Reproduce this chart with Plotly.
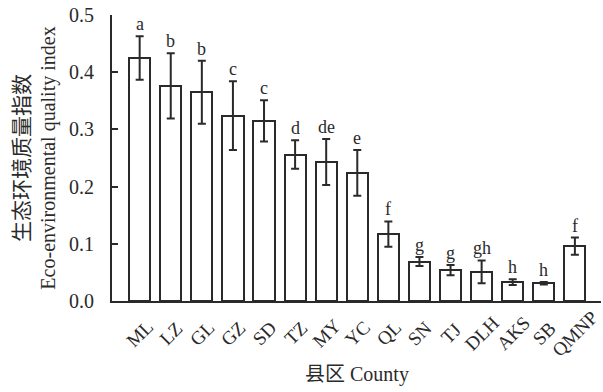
import plotly.graph_objects as go

# County codes and eco-environmental quality index (mean ± SD)
counties = ["ML", "LZ", "GL", "GZ", "SD", "TZ", "MY", "YC", "QL", "SN",
            "TJ", "DLH", "AKS", "SB", "QMNP"]
means = [0.425, 0.376, 0.365, 0.324, 0.315, 0.256, 0.243, 0.224, 0.117, 0.069,
         0.054, 0.051, 0.033, 0.031, 0.096]
errors = [0.038, 0.057, 0.055, 0.060, 0.036, 0.025, 0.040, 0.040, 0.022, 0.008,
          0.009, 0.020, 0.005, 0.002, 0.015]
letters = ["a", "b", "b", "c", "c", "d", "de", "e", "f", "g",
           "g", "gh", "h", "h", "f"]

ink = "#2a2a2a"
serif = "Liberation Serif, Noto Sans CJK SC"
positions = list(range(len(counties)))

fig = go.Figure()
fig.add_trace(go.Bar(
    x=positions,
    y=means,
    width=0.68,
    marker=dict(color="white", line=dict(color=ink, width=2)),
    error_y=dict(type="data", array=errors, visible=True,
                 color=ink, thickness=2, width=4),
    showlegend=False,
))

# Significance letters above each error bar
for i, (m, e, lab) in enumerate(zip(means, errors, letters)):
    fig.add_annotation(x=i, y=m + e, text=lab, showarrow=False,
                       xanchor="center", yanchor="bottom",
                       font=dict(family=serif, size=18, color=ink))

# Category labels, rotated 45° and centred under each bar
for i, name in enumerate(counties):
    fig.add_annotation(x=i, xref="x", y=0, yref="paper", text=name,
                       showarrow=False, textangle=-45,
                       xanchor="center", yanchor="middle", yshift=-32,
                       font=dict(family=serif, size=19, color=ink))

# Horizontal axis title
fig.add_annotation(x=0.5, xref="paper", y=0, yref="paper", text="县区 County",
                   showarrow=False, xanchor="center", yanchor="middle",
                   yshift=-73, font=dict(family=serif, size=20, color=ink))

fig.update_layout(
    width=603, height=392,
    margin=dict(l=112, r=2, t=15, b=91),
    plot_bgcolor="white", paper_bgcolor="white",
    font=dict(family=serif, color=ink),
    bargap=0,
)
fig.update_xaxes(
    tickmode="array", tickvals=positions, showticklabels=False,
    range=[-0.89, 14.84],
    showline=True, linecolor=ink, linewidth=2, ticks="",
    showgrid=False, zeroline=False,
)
fig.update_yaxes(
    range=[0, 0.5], dtick=0.1, tickformat=".1f",
    showline=True, linecolor=ink, linewidth=2,
    ticks="inside", ticklen=6, tickwidth=2, tickcolor=ink,
    ticklabelstandoff=12,
    showgrid=False, zeroline=False,
    tickfont=dict(family=serif, size=20, color=ink),
    title=dict(text="<span style='font-size:21px'>生态环境质量指数</span><br>Eco-environmental quality index",
               font=dict(family=serif, size=20, color=ink), standoff=8),
)

fig.write_html("out.html")
